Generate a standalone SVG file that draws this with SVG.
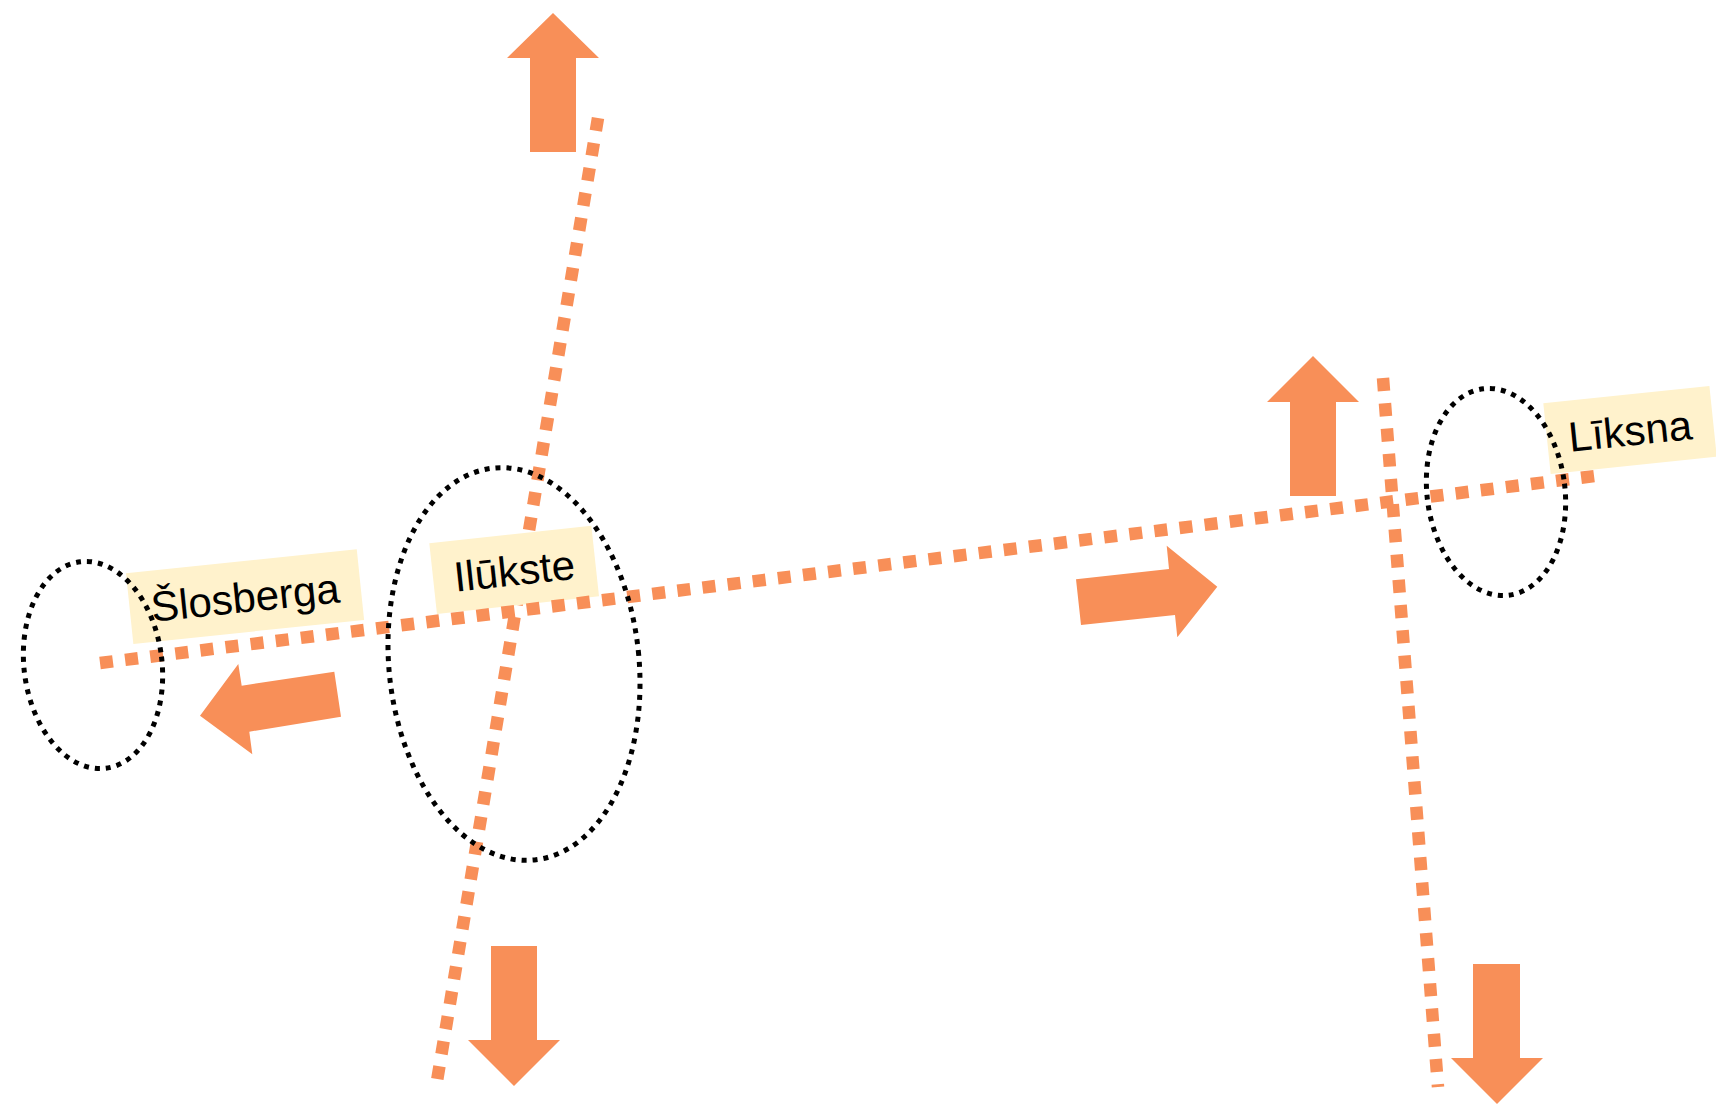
<svg xmlns="http://www.w3.org/2000/svg" width="1716" height="1110" viewBox="0 0 1716 1110">
<style>
.road{fill:none;stroke:#F88F58;stroke-width:12.5;stroke-dasharray:13 12.3}
.ring{fill:none;stroke:#000;stroke-width:5;stroke-dasharray:5 6}
.lbl{fill:#FFF2CC}
.txt{font-family:"Liberation Sans",Arial,sans-serif;font-size:42px;fill:#000;text-anchor:middle}
.arr{fill:#F88F58}
</style>
<rect width="1716" height="1110" fill="#fff"/>
<g id="connectors">
<line class="road" x1="598" y1="118" x2="437" y2="1081"/>
<line class="road" x1="1383" y1="378" x2="1438" y2="1087"/>
</g>
<g id="label-slosberga" transform="translate(126,573.3) rotate(-5.94)">
<rect class="lbl" width="232" height="71"/>
<text class="txt" x="116" y="51">Šlosberga</text>
</g>
<g id="label-ilukste" transform="translate(429.3,543.3) rotate(-6.2)">
<rect class="lbl" width="163" height="71"/>
<text class="txt" x="81.5" y="51">Ilūkste</text>
</g>
<g id="label-liksna" transform="translate(1543.3,403.3) rotate(-5.95)">
<rect class="lbl" width="167" height="71"/>
<text class="txt" x="83.5" y="51">Līksna</text>
</g>
<g id="connector-main">
<line class="road" x1="100" y1="663" x2="1595" y2="476"/>
</g>
<g id="node-slosberga"><ellipse class="ring" cx="93" cy="665" rx="69" ry="104" transform="rotate(-7 93 665)"/></g>
<g id="node-ilukste"><ellipse class="ring" cx="514" cy="664" rx="125" ry="197" transform="rotate(-6 514 664)"/></g>
<g id="node-liksna"><ellipse class="ring" cx="1496" cy="492" rx="69" ry="104" transform="rotate(-7 1496 492)"/></g>
<g id="arrows">
<polygon class="arr" points="553,13 599,58 576,58 576,152 530,152 530,58 507,58"/>
<polygon class="arr" points="1313,356 1359,402 1336,402 1336,496 1290,496 1290,402 1267,402"/>
<polygon class="arr" points="491,946 537,946 537,1040 560,1040 514,1086 468,1040 491,1040"/>
<polygon class="arr" points="1473,964 1520,964 1520,1058 1543,1058 1497,1104 1451,1058 1473,1058"/>
<polygon class="arr" points="200,715.7 238.3,664 241.7,685.7 334.3,671.7 341,716.7 249.3,731.7 252.3,754.3"/>
<polygon class="arr" points="1076,579.3 1169,569 1166.7,545.7 1217.3,586.7 1177.3,637.3 1175,615 1081,625"/>
</g>
</svg>
